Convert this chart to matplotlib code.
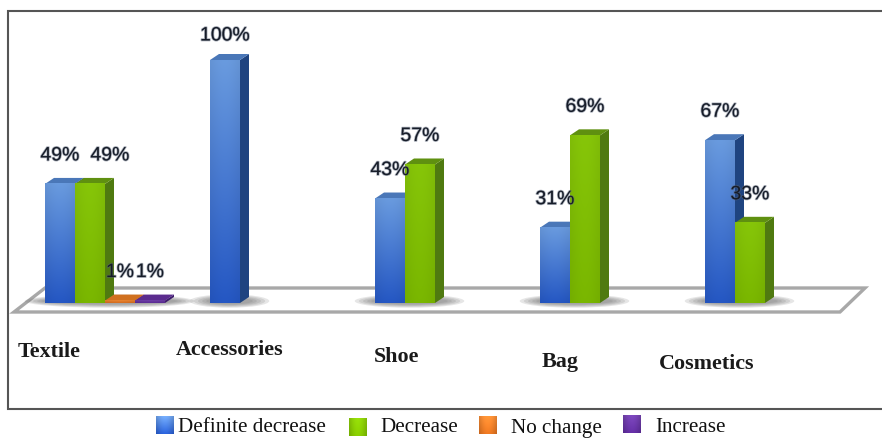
import numpy as np
import matplotlib
matplotlib.use('Agg')
import matplotlib.pyplot as plt
import matplotlib.patheffects as pe
from matplotlib.patches import Polygon, Ellipse
from matplotlib.colors import to_rgb

categories = ['Textile', 'Accessories', 'Shoe', 'Bag', 'Cosmetics']
series_names = ['Definite decrease', 'Decrease', 'No change', 'Increase']
definite_decrease = [49, 100, 43, 31, 67]
decrease = [49, 0, 57, 69, 33]
no_change = [1, 0, 0, 0, 0]
increase = [1, 0, 0, 0, 0]
series_values = [definite_decrease, decrease, no_change, increase]

# light, dark, side and top colour for each series
series_colors = [
    ('#6493d4', '#2353ba', '#1f4480', '#4a77b8'),
    ('#80bc08', '#74ae00', '#4f7a10', '#5f9010'),
    ('#e08030', '#c9661c', '#a85214', '#d0701f'),
    ('#6a3da0', '#55288c', '#3e1c6c', '#5b2c8e'),
]

W, H = 882, 438
fig = plt.figure(figsize=(W / 100, H / 100), dpi=100)

# overlay in pixel coordinates for frame, floor, category names and legend
bg = fig.add_axes([0, 0, 1, 1])
bg.set_xlim(0, W)
bg.set_ylim(H, 0)
bg.axis('off')

# frame is open on the right
bg.plot([W, 7.5, 7.5, W], [11, 11, 409, 409], color='#555555', lw=1.5, solid_joinstyle='miter')
floor = [(14, 312), (840, 312), (865, 288), (45, 288)]
bg.add_patch(Polygon(floor, closed=True, fc='white', ec='#a8a8a8', lw=2.4))

# bar axes: one unit on x is one category slot, y is percent
slot_px = 165
bar_px = 30
ax = fig.add_axes([45 / W, (H - 303) / H, 5 * slot_px / W, 243 / H], facecolor='none')
ax.set_xlim(0, 5)
ax.set_ylim(0, 100)
ax.axis('off')

bar_w = bar_px / slot_px
depth_x = 9 / slot_px
depth_y = 6 / 2.43


def gradient(light, dark, glow=0.05):
    # vertical fade with a slightly brighter middle column
    v = np.linspace(0, 1, 64)[:, None, None]
    h = 1 + glow * np.sin(np.linspace(0, np.pi, 16))[None, :, None]
    a, b = np.array(to_rgb(light)), np.array(to_rgb(dark))
    return np.clip((a * (1 - v) + b * v) * h, 0, 1)


# soft shadow below the bars
for i in range(len(categories)):
    n_bars = sum(1 for s in series_values if s[i] > 0)
    cx = i + bar_w * n_bars / 2 + depth_x / 2
    for k in range(5):
        ax.add_patch(Ellipse((cx, 0.8), bar_w * n_bars + (0.30 - k * 0.05), 5.5 - k * 0.7,
                             fc='#666666', ec='none', alpha=0.16, clip_on=False, zorder=1))

z = 2
for i in range(len(categories)):
    for j, values in enumerate(series_values):
        val = values[i]
        if val == 0:
            continue
        light, dark, side, top = series_colors[j]
        x0 = i + j * bar_w
        x1 = x0 + bar_w
        ax.add_patch(Polygon([(x1, 0), (x1 + depth_x, depth_y), (x1 + depth_x, val + depth_y), (x1, val)],
                             fc=side, ec='none', zorder=z, clip_on=False))
        ax.add_patch(Polygon([(x0, val), (x1, val), (x1 + depth_x, val + depth_y), (x0 + depth_x, val + depth_y)],
                             fc=top, ec='none', zorder=z, clip_on=False))
        ax.imshow(gradient(light, dark), extent=(x0, x1, 0, val), aspect='auto', zorder=z + 0.5,
                  interpolation='bilinear', clip_on=False)
        z += 1

ax.set_xlim(0, 5)
ax.set_ylim(0, 100)

# value labels, the second Textile one is pushed clear of its neighbour
label_fx = [pe.withStroke(linewidth=1.2, foreground='#5a6478', alpha=0.5)]
for i in range(len(categories)):
    for j, values in enumerate(series_values):
        val = values[i]
        if val == 0:
            continue
        dy = 24 if val == 100 else 28
        dx = 20 if (i == 0 and j == 1) else 0
        ax.annotate(f'{val}%', (i + (j + 0.5) * bar_w, val), xytext=(dx * 0.72, dy * 0.72),
                    textcoords='offset points', ha='center', va='center', fontsize=14,
                    family='Liberation Sans', color='#161c28',
                    path_effects=label_fx, zorder=100, annotation_clip=False)

# category names sit at uneven positions under the floor
name_x = [49, 230, 397, 560, 707]
name_y = [352, 350, 357, 362, 364]
for name, x, y in zip(categories, name_x, name_y):
    bg.text(x, y, name, ha='center', va='center', fontsize=15.8, fontweight='bold',
            family='Liberation Serif', color='#1a1a1a')

# legend
marker_x = [156, 349, 479, 623]
marker_y = [416, 418, 416, 415]
text_x = [178, 380, 511, 655]
for j, name in enumerate(series_names):
    light, dark = series_colors[j][:2]
    bg.imshow(gradient(light, dark, glow=0.2), extent=(marker_x[j], marker_x[j] + 18, marker_y[j] + 18, marker_y[j]),
              aspect='auto', interpolation='bilinear')
    bg.text(text_x[j], 432.5, name, ha='left', va='baseline', fontsize=15.2,
            family='Liberation Serif', color='#111111')
bg.set_xlim(0, W)
bg.set_ylim(H, 0)

fig.savefig('out.png', dpi=100)
